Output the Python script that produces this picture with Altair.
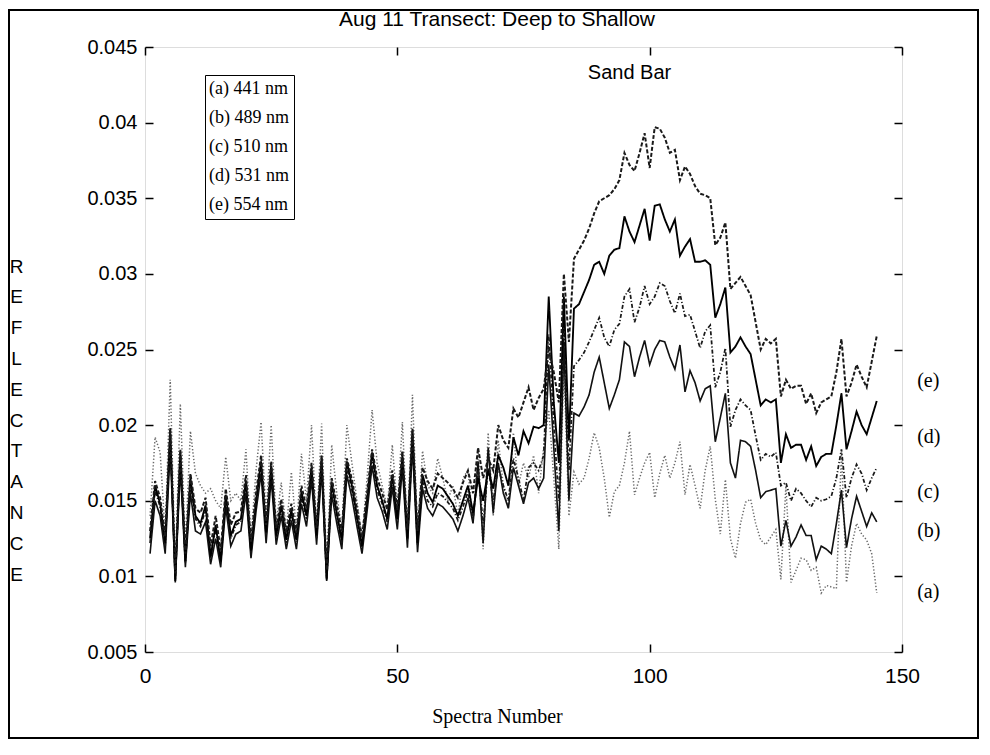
import altair as alt
import pandas as pd

# ---------------- data ----------------
spectra = list(range(1, 146))

chart_title = "Aug 11 Transect: Deep to Shallow"
band_names = ["(a) 441 nm", "(b) 489 nm", "(c) 510 nm", "(d) 531 nm", "(e) 554 nm"]
short_labels = ["(a)", "(b)", "(c)", "(d)", "(e)"]
short_label_y = [0.0090, 0.0130, 0.0156, 0.0192, 0.0229]
short_label_x = [153, 153, 153, 153, 153]

x_ticks = [0, 50, 100, 150]
y_ticks = [0.005, 0.01, 0.015, 0.02, 0.025, 0.03, 0.035, 0.04, 0.045]

annot_text = ["Sand Bar"]
annot_x = [96]
annot_y = [0.0433]

refl_a = [0.0140, 0.0192, 0.0182, 0.0128, 0.0230, 0.0105, 0.0214, 0.0120, 0.0196, 0.0168,
          0.0160, 0.0155, 0.0158, 0.0150, 0.0145, 0.0179, 0.0150, 0.0155, 0.0150, 0.0184,
          0.0125, 0.0170, 0.0202, 0.0140, 0.0200, 0.0135, 0.0162, 0.0130, 0.0169, 0.0130,
          0.0181, 0.0150, 0.0200, 0.0132, 0.0201, 0.0105, 0.0187, 0.0155, 0.0130, 0.0200,
          0.0175, 0.0150, 0.0125, 0.0165, 0.0210, 0.0175, 0.0160, 0.0145, 0.0187, 0.0145,
          0.0202, 0.0130, 0.0220, 0.0128, 0.0183, 0.0160, 0.0155, 0.0178, 0.0165, 0.0150,
          0.0160, 0.0140, 0.0165, 0.0170, 0.0135, 0.0185,
          0.0118, 0.0195, 0.0140, 0.0190, 0.0160, 0.0145, 0.0195, 0.0160, 0.0175, 0.0165,
          0.0180, 0.0155, 0.0185,
          0.0210, 0.0165, 0.0118, 0.0240, 0.0140, 0.0169,
          0.0161, 0.0165, 0.0178, 0.0195, 0.0185, 0.0165, 0.0139, 0.0156, 0.0160, 0.0175,
          0.0196, 0.0154, 0.0165, 0.0175, 0.0182, 0.0152, 0.0168, 0.0180, 0.0165, 0.0175,
          0.0189, 0.0154, 0.0174, 0.0160, 0.0145, 0.0170, 0.0186, 0.0151, 0.0128, 0.0164,
          0.0125, 0.0112, 0.0135, 0.0149, 0.0151, 0.0135, 0.0124, 0.0121, 0.0126, 0.0131,
          0.0098, 0.0160, 0.0096, 0.0104, 0.0112, 0.0111, 0.0104, 0.0106, 0.0089, 0.0094,
          0.0093, 0.0092, 0.0182, 0.0096, 0.0120, 0.0135, 0.0128, 0.0124, 0.0115, 0.0089]

refl_b = [0.0115, 0.0150, 0.0140, 0.0115, 0.0185, 0.0096, 0.0172, 0.0106, 0.0155, 0.0130,
          0.0128, 0.0136, 0.0108, 0.0125, 0.0106, 0.0146, 0.0120, 0.0128, 0.0130, 0.0155,
          0.0112, 0.0143, 0.0168, 0.0122, 0.0165, 0.0121, 0.0140, 0.0118, 0.0137, 0.0118,
          0.0148, 0.0133, 0.0164, 0.0121, 0.0170, 0.0097, 0.0154, 0.0135, 0.0118, 0.0167,
          0.0152, 0.0133, 0.0115, 0.0143, 0.0173, 0.0152, 0.0143, 0.0131, 0.0159, 0.0131,
          0.0172, 0.0119, 0.0186, 0.0116, 0.0158, 0.0145, 0.0140, 0.0148, 0.0146, 0.0142,
          0.0138, 0.0130, 0.0140,
          0.0152, 0.0135, 0.0176, 0.0122, 0.0185, 0.0142, 0.0175, 0.0155, 0.0145, 0.0172,
          0.0160, 0.0148, 0.0162, 0.0165, 0.0158, 0.0165,
          0.0240, 0.0185, 0.0130, 0.0255, 0.0150, 0.0208,
          0.0206, 0.0212, 0.0220, 0.0235, 0.0245, 0.0228, 0.0211, 0.0220, 0.0230, 0.0255,
          0.0252, 0.0232, 0.0245, 0.0256, 0.0240, 0.0250, 0.0256, 0.0255, 0.0245, 0.0237,
          0.0253, 0.0222, 0.0236, 0.0228, 0.0216, 0.0224, 0.0226, 0.0189, 0.0205, 0.0221,
          0.0175, 0.0165, 0.0190, 0.0189, 0.0186, 0.0170, 0.0152, 0.0156, 0.0157, 0.0158,
          0.0120, 0.0137, 0.0120, 0.0126, 0.0134, 0.0127, 0.0127, 0.0111, 0.0120, 0.0118,
          0.0115, 0.0135, 0.0157, 0.0119, 0.0138, 0.0153, 0.0143, 0.0133, 0.0142, 0.0136]

refl_c = [0.0122, 0.0157, 0.0146, 0.0120, 0.0193, 0.0098, 0.0179, 0.0109, 0.0162, 0.0138,
          0.0133, 0.0144, 0.0112, 0.0132, 0.0110, 0.0151, 0.0125, 0.0134, 0.0136, 0.0160,
          0.0116, 0.0148, 0.0173, 0.0127, 0.0170, 0.0126, 0.0145, 0.0122, 0.0142, 0.0123,
          0.0153, 0.0138, 0.0169, 0.0125, 0.0175, 0.0099, 0.0159, 0.0140, 0.0122, 0.0172,
          0.0157, 0.0138, 0.0119, 0.0148, 0.0178, 0.0157, 0.0148, 0.0136, 0.0164, 0.0136,
          0.0176, 0.0124, 0.0190, 0.0121, 0.0163, 0.0150, 0.0146, 0.0155, 0.0153, 0.0149,
          0.0145, 0.0137, 0.0146,
          0.0156, 0.0138, 0.0170, 0.0135, 0.0172, 0.0150, 0.0172, 0.0160, 0.0150, 0.0178,
          0.0165, 0.0150, 0.0172, 0.0175, 0.0170, 0.0180,
          0.0260, 0.0200, 0.0150, 0.0270, 0.0170, 0.0239,
          0.0243, 0.0248, 0.0255, 0.0263, 0.0271, 0.0258, 0.0252, 0.0263, 0.0267, 0.0285,
          0.0290, 0.0268, 0.0278, 0.0292, 0.0280, 0.0285, 0.0294, 0.0292, 0.0282, 0.0274,
          0.0287, 0.0272, 0.0273, 0.0262, 0.0251, 0.0262, 0.0266, 0.0225, 0.0235, 0.0251,
          0.0199, 0.0210, 0.0217, 0.0213, 0.0210, 0.0193, 0.0177, 0.0181, 0.0179, 0.0182,
          0.0160, 0.0162, 0.0150, 0.0158, 0.0155, 0.0150, 0.0146, 0.0152, 0.0150, 0.0151,
          0.0153, 0.0165, 0.0184, 0.0152, 0.0165, 0.0174, 0.0168, 0.0157, 0.0165, 0.0172]

refl_d = [0.0125, 0.0160, 0.0148, 0.0122, 0.0196, 0.0097, 0.0182, 0.0110, 0.0165, 0.0140,
          0.0135, 0.0147, 0.0113, 0.0134, 0.0110, 0.0154, 0.0127, 0.0136, 0.0138, 0.0163,
          0.0117, 0.0150, 0.0176, 0.0129, 0.0173, 0.0127, 0.0147, 0.0124, 0.0144, 0.0124,
          0.0156, 0.0140, 0.0172, 0.0127, 0.0178, 0.0098, 0.0162, 0.0142, 0.0124, 0.0176,
          0.0160, 0.0140, 0.0120, 0.0150, 0.0182, 0.0160, 0.0150, 0.0138, 0.0167, 0.0138,
          0.0180, 0.0125, 0.0196, 0.0122, 0.0167, 0.0155, 0.0149, 0.0160, 0.0158, 0.0153,
          0.0148, 0.0140, 0.0150,
          0.0160, 0.0142, 0.0165, 0.0150, 0.0170, 0.0158, 0.0180, 0.0172, 0.0160, 0.0192,
          0.0180, 0.0196, 0.0188, 0.0199, 0.0198, 0.0200,
          0.0285, 0.0215, 0.0175, 0.0285, 0.0190, 0.0277,
          0.0280, 0.0288, 0.0296, 0.0306, 0.0308, 0.0300, 0.0312, 0.0316, 0.0317, 0.0338,
          0.0328, 0.0321, 0.0332, 0.0343, 0.0322, 0.0345, 0.0346, 0.0336, 0.0328, 0.0336,
          0.0312, 0.0318, 0.0323, 0.0308, 0.0308, 0.0309, 0.0306, 0.0271, 0.0280, 0.0291,
          0.0248, 0.0252, 0.0258, 0.0252, 0.0247, 0.0230, 0.0213, 0.0217, 0.0215, 0.0217,
          0.0175, 0.0194, 0.0185, 0.0187, 0.0187, 0.0177, 0.0186, 0.0173, 0.0179, 0.0181,
          0.0181, 0.0200, 0.0221, 0.0184, 0.0196, 0.0209, 0.0200, 0.0194, 0.0205, 0.0216]

refl_e = [0.0130, 0.0163, 0.0152, 0.0126, 0.0198, 0.0102, 0.0184, 0.0115, 0.0168, 0.0145,
          0.0142, 0.0152, 0.0120, 0.0140, 0.0117, 0.0158, 0.0134, 0.0142, 0.0143, 0.0167,
          0.0123, 0.0155, 0.0180, 0.0134, 0.0176, 0.0132, 0.0151, 0.0129, 0.0148, 0.0129,
          0.0160, 0.0145, 0.0175, 0.0132, 0.0180, 0.0104, 0.0165, 0.0147, 0.0130, 0.0178,
          0.0164, 0.0145, 0.0126, 0.0155, 0.0184, 0.0165, 0.0155, 0.0144, 0.0170, 0.0144,
          0.0183, 0.0131, 0.0198, 0.0130, 0.0172, 0.0163, 0.0158, 0.0168, 0.0165, 0.0162,
          0.0158, 0.0152, 0.0162, 0.0170, 0.0155, 0.0185,
          0.0165, 0.0178, 0.0170, 0.0200, 0.0190, 0.0185, 0.0211, 0.0205, 0.0215, 0.0225,
          0.0210, 0.0218, 0.0224,
          0.0250, 0.0235, 0.0215, 0.0300, 0.0255, 0.0310,
          0.0316, 0.0322, 0.0330, 0.0340, 0.0348, 0.0350, 0.0352, 0.0356, 0.0362, 0.0380,
          0.0372, 0.0368, 0.0380, 0.0393, 0.0370, 0.0397, 0.0396, 0.0390, 0.0380, 0.0382,
          0.0362, 0.0371, 0.0366, 0.0358, 0.0353, 0.0352, 0.0350, 0.0319, 0.0324, 0.0334,
          0.0290, 0.0294, 0.0298, 0.0292, 0.0286, 0.0268, 0.0250, 0.0257, 0.0254, 0.0257,
          0.0219, 0.0230, 0.0224, 0.0226, 0.0226, 0.0214, 0.0221, 0.0208, 0.0215, 0.0217,
          0.0219, 0.0235, 0.0257, 0.0219, 0.0228, 0.0240, 0.0232, 0.0225, 0.0242, 0.0259]

series = [refl_a, refl_b, refl_c, refl_d, refl_e]
for s in series:
    assert len(s) == len(spectra)

rows = []
for name, vals in zip(band_names, series):
    for sp, v in zip(spectra, vals):
        rows.append({"spectrum": sp, "reflectance": v, "band": name})
df = pd.DataFrame(rows)

labels_df = pd.DataFrame({"x": short_label_x, "y": short_label_y, "t": short_labels})
annot_df = pd.DataFrame({"x": annot_x, "y": annot_y, "t": annot_text})
one_row = pd.DataFrame({"k": [0]})

# ---------------- styling ----------------
SANS = "Liberation Sans"
SERIF = "Liberation Serif"
W, H = 757, 605

x_scale = alt.Scale(domain=[0, 150], nice=False, zero=False)
y_scale = alt.Scale(domain=[0.005, 0.045], nice=False, zero=False)

line_colors = ["#6a6a6a", "#111111", "#1a1a1a", "#000000", "#1a1a1a"]
line_dashes = [[1.3, 2.0], [1, 0], [4, 2, 1.2, 2], [1, 0], [4, 2]]
line_widths = [1.5, 2.0, 1.6, 3.0, 1.6]

x_axis_bottom = alt.Axis(
    orient="bottom", values=x_ticks, offset=-8, tickSize=8, tickColor="black", tickWidth=1.5,
    domain=False, grid=False, labelPadding=13, labelFlush=False, labelFont=SANS,
    labelFontSize=21, labelColor="black", title="Spectra Number", titleFont=SERIF,
    titleFontSize=20, titleFontWeight="normal", titleColor="black", titleX=352, titleY=78,
    titleBaseline="alphabetic", titleAlign="center",
)
y_axis_left = alt.Axis(
    orient="left", values=y_ticks, format="~g", offset=-8, tickSize=8, tickColor="black",
    tickWidth=1.5, domain=False, grid=False, labelPadding=8, labelFont=SANS, labelFontSize=20,
    labelColor="black", title=list("REFLECTANCE"), titleAngle=0, titleFont=SANS,
    titleFontSize=19, titleFontWeight="normal", titleColor="black", titleX=-137, titleY=210,
    titleAlign="center", titleBaseline="top", titleLineHeight=30.8,
)
x_axis_top = alt.Axis(
    orient="top", values=x_ticks, offset=-8, tickSize=8, tickColor="black", tickWidth=1.5,
    domain=False, grid=False, labels=False, title=None,
)
y_axis_right = alt.Axis(
    orient="right", values=y_ticks, offset=-8, tickSize=8, tickColor="black", tickWidth=1.5,
    domain=False, grid=False, labels=False, title=None,
)

legend = alt.Legend(
    title=None, orient="none", legendX=60, legendY=28, strokeColor="black", fillColor="white",
    padding=5, labelFont=SERIF, labelFontSize=18, labelColor="black", symbolOpacity=0,
    symbolSize=1, labelOffset={"expr": "-19"}, rowPadding=11, symbolType="stroke",
)

lines = alt.Chart(df).mark_line().encode(
    x=alt.X("spectrum:Q", scale=x_scale, axis=x_axis_bottom),
    y=alt.Y("reflectance:Q", scale=y_scale, axis=y_axis_left),
    color=alt.Color("band:N", scale=alt.Scale(domain=band_names, range=line_colors),
                    legend=legend),
    strokeDash=alt.StrokeDash("band:N", scale=alt.Scale(domain=band_names, range=line_dashes),
                              legend=None),
    strokeWidth=alt.StrokeWidth("band:N", scale=alt.Scale(domain=band_names, range=line_widths),
                                legend=None),
)

right_labels = alt.Chart(labels_df).mark_text(
    font=SERIF, fontSize=20, align="left", baseline="middle", color="black"
).encode(
    x=alt.X("x:Q", scale=x_scale, axis=x_axis_top),
    y=alt.Y("y:Q", scale=y_scale, axis=y_axis_right),
    text="t:N",
)

sand = alt.Chart(annot_df).mark_text(
    font=SANS, fontSize=20, align="center", baseline="middle", color="black"
).encode(
    x=alt.X("x:Q", scale=x_scale, axis=None),
    y=alt.Y("y:Q", scale=y_scale, axis=None),
    text="t:N",
)

title_mark = alt.Chart(one_row).mark_text(
    font=SANS, fontSize=21, align="center", baseline="middle", color="black"
).encode(
    x=alt.value(352), y=alt.value(-27), text=alt.value(chart_title)
)

frame = alt.Chart(one_row).mark_rect(
    filled=False, stroke="black", strokeWidth=2
).encode(
    x=alt.value(-136), x2=alt.value(833), y=alt.value(-37), y2=alt.value(691)
)

chart = alt.layer(frame, title_mark, lines, right_labels, sand).resolve_scale(
    x="shared", y="shared"
).resolve_axis(
    x="independent", y="independent"
).properties(
    width=W, height=H,
    autosize=alt.AutoSizeParams(type="none"),
    padding={"left": 137, "top": 39, "right": 78, "bottom": 90},
).configure_view(
    stroke="black", strokeWidth=2
).configure(background="white")

chart.save("out.html", embed_options={"renderer": "svg", "actions": False})
